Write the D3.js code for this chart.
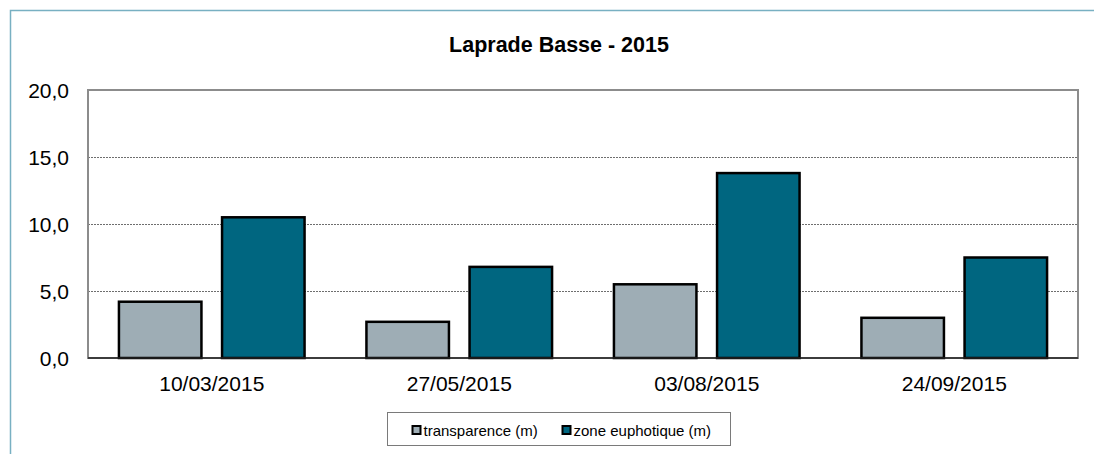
<!DOCTYPE html>
<html>
<head>
<meta charset="utf-8">
<script src="https://cdn.jsdelivr.net/npm/d3@7"></script>
<style>
  body { margin: 0; background: #fff; }
  svg text { font-family: "Liberation Sans", Arial, sans-serif; }
</style>
</head>
<body>
<svg id="chart" width="1094" height="454"></svg>
<script>
// data
const dates = ["10/03/2015", "27/05/2015", "03/08/2015", "24/09/2015"];
const transparence = [4.2, 2.7, 5.5, 3.0];
const zoneEuphotique = [10.5, 6.8, 13.8, 7.5];
const seriesNames = ["transparence (m)", "zone euphotique (m)"];
const seriesColors = ["#9eadb5", "#006680"];
const yTicks = [0, 5, 10, 15, 20];

const svg = d3.select("#chart");
const width = 1094, height = 454;
const padding = {top: 90, bottom: 96, left: 88, right: 16};
const plotW = width - padding.left - padding.right;
const plotH = height - padding.top - padding.bottom;

// outer chart frame
svg.append("path")
    .attr("d", "M10.5," + height + " V10.5 H" + width)
    .style("fill", "none")
    .style("stroke", "#78b0c2")
    .style("stroke-width", 1.5);

svg.append("text")
    .attr("x", 559)
    .attr("y", 52)
    .attr("text-anchor", "middle")
    .style("font-size", "21.5px")
    .style("font-weight", "bold")
    .text("Laprade Basse - 2015");

const canvas = svg.append("g")
    .attr("transform", "translate(" + padding.left + "," + padding.top + ")");

const x0 = d3.scaleBand().domain(dates).range([0, plotW]).paddingInner(0).paddingOuter(0);
const x1 = d3.scaleBand().domain([0, 1]).range([0, x0.bandwidth()])
    .paddingInner(0.2).paddingOuter(0.3);
const y = d3.scaleLinear().domain([0, 20]).range([plotH, 0]);

// gridlines
canvas.selectAll("line.grid")
    .data(yTicks.filter(d => d > 0 && d < 20))
    .enter().append("line")
    .attr("class", "grid")
    .attr("x1", 0).attr("x2", plotW)
    .attr("y1", d => Math.round(y(d)) + 0.5)
    .attr("y2", d => Math.round(y(d)) + 0.5)
    .style("stroke", "#6e6e6e")
    .style("stroke-width", 1)
    .style("stroke-dasharray", "2,1");

// plot frame
canvas.append("rect")
    .attr("x", 0).attr("y", 0)
    .attr("width", plotW).attr("height", plotH)
    .style("fill", "none")
    .style("stroke", "#8c8c8c")
    .style("stroke-width", 2);

const rows = dates.map((d, i) => ({date: d, vals: [transparence[i], zoneEuphotique[i]]}));

const groups = canvas.selectAll("g.group")
    .data(rows)
    .enter().append("g")
    .attr("class", "group")
    .attr("transform", d => "translate(" + x0(d.date) + ",0)");

groups.selectAll("rect.bar")
    .data(d => d.vals.map((v, k) => ({k: k, v: v})))
    .enter().append("rect")
    .attr("class", "bar")
    .attr("x", d => x1(d.k))
    .attr("y", d => y(d.v))
    .attr("width", x1.bandwidth())
    .attr("height", d => plotH - y(d.v))
    .style("fill", d => seriesColors[d.k])
    .style("stroke", "#000")
    .style("stroke-width", 2.5);

// bottom axis line
canvas.append("line")
    .attr("x1", 0).attr("x2", plotW)
    .attr("y1", plotH).attr("y2", plotH)
    .style("stroke", "#222")
    .style("stroke-width", 1.5);

// axes
const yAxis = d3.axisLeft(y).tickValues(yTicks).tickSize(0).tickPadding(19)
    .tickFormat(d => d3.format(".1f")(d).replace(".", ","));
const gY = canvas.append("g").call(yAxis);
gY.select(".domain").remove();
gY.selectAll("text").attr("dy", "0.36em").style("font-size", "21px").style("fill", "#000");

const xAxis = d3.axisBottom(x0).tickSize(0).tickPadding(18);
const gX = canvas.append("g").attr("transform", "translate(0," + plotH + ")").call(xAxis);
gX.select(".domain").remove();
gX.selectAll("text").style("font-size", "21px").style("fill", "#000");

// legend
const legend = svg.append("g").attr("transform", "translate(387.5,412.5)");
legend.append("rect")
    .attr("width", 343).attr("height", 33)
    .style("fill", "#fff")
    .style("stroke", "#7a7a7a")
    .style("stroke-width", 1);

const legendX = [25, 175];
const items = legend.selectAll("g.item")
    .data(seriesNames)
    .enter().append("g")
    .attr("class", "item")
    .attr("transform", (d, i) => "translate(" + legendX[i] + ",0)");

items.append("rect")
    .attr("x", 0).attr("y", 13.5)
    .attr("width", 8).attr("height", 8)
    .style("fill", (d, i) => seriesColors[i])
    .style("stroke", "#000")
    .style("stroke-width", 2);

items.append("text")
    .attr("x", 11)
    .attr("y", 23)
    .style("font-size", "15px")
    .text(d => d);
</script>
</body>
</html>
